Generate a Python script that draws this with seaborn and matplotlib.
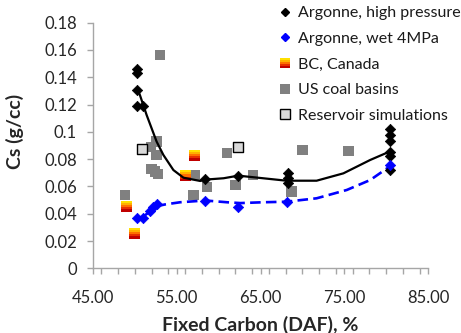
import numpy as np
import pandas as pd
import matplotlib
matplotlib.use('Agg')
import matplotlib.pyplot as plt
import seaborn as sns
from matplotlib.path import Path
from matplotlib.lines import Line2D
from matplotlib.legend_handler import HandlerTuple
from matplotlib.ticker import MultipleLocator

# ---- data ----
hp_x = [50.2, 50.2, 50.2, 50.2, 51.0, 58.4, 62.35, 68.3, 68.3, 68.3, 80.5, 80.5, 80.5, 80.5, 80.5, 80.5]
hp_y = [0.146, 0.143, 0.1305, 0.1186, 0.1186, 0.0655, 0.0678, 0.070, 0.066, 0.0625,
        0.102, 0.098, 0.093, 0.0855, 0.082, 0.072]
wet_x = [50.2, 51.0, 51.8, 52.2, 52.6, 58.4, 62.35, 68.2, 80.5]
wet_y = [0.0367, 0.0367, 0.042, 0.045, 0.047, 0.0496, 0.045, 0.0488, 0.0757]
bc_x = [49.0, 50.0, 56.0, 57.1]
bc_y = [0.0455, 0.0257, 0.068, 0.083]
us_x = [48.8, 51.9, 52.6, 52.6, 52.0, 52.4, 52.8, 53.0, 57.0, 57.2, 58.6, 61.0, 62.0, 64.1, 68.7, 70.0, 75.5]
us_y = [0.0537, 0.089, 0.093, 0.083, 0.073, 0.071, 0.069, 0.1564, 0.0537, 0.0684, 0.0598,
        0.0845, 0.061, 0.0684, 0.0562, 0.0867, 0.086]
res_x = [50.8, 62.35]
res_y = [0.0872, 0.0891]
# trend lines
hp_fit_x = [50.3, 50.6, 51.4, 52.6, 53.4, 54.6, 55.8, 57.8, 58.4, 60.6, 62.35, 65.3, 68.1, 71.7, 74.9, 78.1, 80.4]
hp_fit_y = [0.131, 0.127, 0.1124, 0.0928, 0.0831, 0.072, 0.0664, 0.064, 0.065, 0.066, 0.0679,
            0.066, 0.0642, 0.0642, 0.0696, 0.0794, 0.0855]
wet_fit_x = [51.0, 51.8, 52.6, 53.6, 55.4, 58.4, 61.0, 62.6, 65.3, 68.1, 71.7, 75.3, 78.1, 80.4]
wet_fit_y = [0.038, 0.0415, 0.0455, 0.0468, 0.0484, 0.0497, 0.0484, 0.0478, 0.0484, 0.0488,
             0.0513, 0.0574, 0.0647, 0.0745]
labels = ["Argonne, high pressure", "Argonne, wet 4MPa", "BC, Canada",
          "US coal basins", "Reservoir simulations"]
x_ticklabels = ["45.00", "55.00", "65.00", "75.00", "85.00"]
y_ticklabels = ["0", "0.02", "0.04", "0.06", "0.08", "0.1", "0.12", "0.14", "0.16", "0.18"]

sns.set_style('white')
plt.rcParams['font.family'] = ['Lato', 'DejaVu Sans']

fig = plt.figure(figsize=(4.61, 3.33), dpi=100)
ax = fig.add_axes([93 / 461, 1 - 268.3 / 333, 335 / 461, 245.6 / 333])

# gradient square marker built from horizontal stripes
grad_cols = ['#FFE000', '#FFB000', '#FF7000', '#E83000', '#C00000']
n = len(grad_cols)
stripe_markers = []
for i in range(n):
    top = min(0.5 - i / n + 0.01, 0.5)
    bot = max(0.5 - (i + 1) / n - 0.01, -0.5)
    verts = [(-0.5, bot), (0.5, bot), (0.5, top), (-0.5, top), (-0.5, bot)]
    codes = [Path.MOVETO, Path.LINETO, Path.LINETO, Path.LINETO, Path.CLOSEPOLY]
    stripe_markers.append(Path(verts, codes))

df_hpfit = pd.DataFrame({'x': hp_fit_x, 'y': hp_fit_y})
df_wetfit = pd.DataFrame({'x': wet_fit_x, 'y': wet_fit_y})
sns.lineplot(data=df_hpfit, x='x', y='y', ax=ax, color='black', lw=1.6,
             sort=False, estimator=None, zorder=3)
sns.lineplot(data=df_wetfit, x='x', y='y', ax=ax, color='#0000FF', lw=1.9,
             sort=False, estimator=None, zorder=3)
ax.lines[-1].set_dashes((4, 2))

sns.scatterplot(x=us_x, y=us_y, ax=ax, marker='s', s=55, color='#808080',
                edgecolor='none', zorder=2)
sns.scatterplot(x=res_x, y=res_y, ax=ax, marker='s', s=50, color='#D9D9D9',
                edgecolor='black', linewidth=1.0, zorder=2)
for mk, c in zip(stripe_markers, grad_cols):
    sns.scatterplot(x=bc_x, y=bc_y, ax=ax, marker=mk, s=62, color=c,
                    edgecolor='none', linewidth=0, zorder=2)
sns.scatterplot(x=hp_x, y=hp_y, ax=ax, marker='D', s=28, color='black',
                edgecolor='black', linewidth=0.5, zorder=4)
sns.scatterplot(x=wet_x, y=wet_y, ax=ax, marker='D', s=28, color='#0000FF',
                edgecolor='#0000FF', linewidth=0.5, zorder=4)

ax.set_xlim(45, 85)
ax.set_ylim(0, 0.18)
ax.set_xticks([45, 55, 65, 75, 85], labels=x_ticklabels)
ax.xaxis.set_minor_locator(MultipleLocator(2))
ax.set_yticks(np.arange(0, 0.181, 0.02), labels=y_ticklabels)

spine_c = '#A6A6A6'
for s in ['top', 'right']:
    ax.spines[s].set_visible(False)
for s in ['left', 'bottom']:
    ax.spines[s].set_color(spine_c)
    ax.spines[s].set_linewidth(1.0)
ax.tick_params(axis='both', which='both', direction='out', length=4.5, width=1.0,
               color=spine_c, labelsize=12, labelcolor='#262626')
ax.tick_params(axis='x', which='both', bottom=True, pad=11)
ax.tick_params(axis='y', left=True, pad=7)

ax.set_xlabel("Fixed Carbon (DAF), %", fontsize=14, fontweight='bold', color='#262626')
ax.set_ylabel("Cs (g/cc)", fontsize=14, fontweight='bold', color='#262626')
ax.xaxis.set_label_coords(0.5, -0.195)
ax.yaxis.set_label_coords(-0.206, 0.559)

# legend
h_hp = Line2D([], [], ls='none', marker='D', ms=4.5, color='black')
h_wet = Line2D([], [], ls='none', marker='D', ms=4.5, color='#0000FF')
h_bc = tuple(Line2D([], [], ls='none', marker=mk, ms=7.5, color=c, mew=0)
             for mk, c in zip(stripe_markers, grad_cols))
h_us = Line2D([], [], ls='none', marker='s', ms=7.2, color='#808080', mew=0)
h_res = Line2D([], [], ls='none', marker='s', ms=7, mfc='#D9D9D9', mec='black', mew=1.0)
leg = ax.legend([h_hp, h_wet, h_bc, h_us, h_res], labels,
                handler_map={tuple: HandlerTuple(ndivide=1, pad=0)},
                loc='upper left', bbox_to_anchor=(279 / 461, 1 - 6 / 333),
                bbox_transform=fig.transFigure, frameon=False, fontsize=11.5,
                handlelength=0.8, handletextpad=0.4, borderpad=0, borderaxespad=0,
                labelspacing=0.72)
for t in leg.get_texts():
    t.set_color('#1a1a1a')

fig.savefig('out.png', dpi=100)
